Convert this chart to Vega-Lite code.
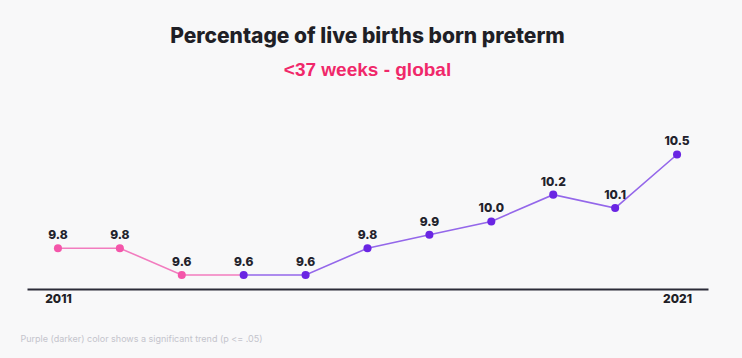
{
  "$schema": "https://vega.github.io/schema/vega-lite/v6.json",
  "width": 681,
  "height": 178,
  "autosize": {"type": "none"},
  "padding": {"left": 27, "top": 111, "right": 34, "bottom": 69},
  "background": "#f8f8f9",
  "config": {"view": {"stroke": null}},
  "title": {
    "text": "Percentage of live births born preterm",
    "subtitle": "<37 weeks - global",
    "anchor": "middle",
    "font": "Inter",
    "fontSize": 21,
    "fontWeight": 800,
    "color": "#1f1f26",
    "subtitleFont": "Liberation Sans",
    "subtitleFontSize": 19,
    "subtitleFontWeight": "bold",
    "subtitleColor": "#f0286a",
    "subtitlePadding": 14,
    "offset": 31
  },
  "datasets": {
    "points": [
      {"year": 2011, "value": 9.8, "trend": "not significant"},
      {"year": 2012, "value": 9.8, "trend": "not significant"},
      {"year": 2013, "value": 9.6, "trend": "not significant"},
      {"year": 2014, "value": 9.6, "trend": "significant"},
      {"year": 2015, "value": 9.6, "trend": "significant"},
      {"year": 2016, "value": 9.8, "trend": "significant"},
      {"year": 2017, "value": 9.9, "trend": "significant"},
      {"year": 2018, "value": 10.0, "trend": "significant"},
      {"year": 2019, "value": 10.2, "trend": "significant"},
      {"year": 2020, "value": 10.1, "trend": "significant"},
      {"year": 2021, "value": 10.5, "trend": "significant"}
    ],
    "lines": [
      {"year": 2011, "value": 9.8, "trend": "not significant"},
      {"year": 2012, "value": 9.8, "trend": "not significant"},
      {"year": 2013, "value": 9.6, "trend": "not significant"},
      {"year": 2014, "value": 9.6, "trend": "not significant"},
      {"year": 2014, "value": 9.6, "trend": "significant"},
      {"year": 2015, "value": 9.6, "trend": "significant"},
      {"year": 2016, "value": 9.8, "trend": "significant"},
      {"year": 2017, "value": 9.9, "trend": "significant"},
      {"year": 2018, "value": 10.0, "trend": "significant"},
      {"year": 2019, "value": 10.2, "trend": "significant"},
      {"year": 2020, "value": 10.1, "trend": "significant"},
      {"year": 2021, "value": 10.5, "trend": "significant"}
    ]
  },
  "encoding": {
    "x": {
      "field": "year",
      "type": "quantitative",
      "scale": {"domain": [2010.5, 2021.5], "nice": false, "zero": false},
      "axis": {
        "values": [2011, 2021],
        "format": "d",
        "title": "Purple (darker) color shows a significant trend (p <= .05)",
        "titleFont": "Inter",
        "titleFontSize": 9,
        "titleFontWeight": "normal",
        "titleColor": "#c4c4cc",
        "titleAnchor": "start",
        "titleAlign": "left",
        "titleBaseline": "middle",
        "titleX": -7,
        "titleY": 49,
        "domainColor": "#2b2b38",
        "domainWidth": 2,
        "ticks": false,
        "grid": false,
        "labelFont": "Inter",
        "labelFontSize": 12,
        "labelFontWeight": 800,
        "labelColor": "#1f1f26",
        "labelPadding": 4
      }
    },
    "y": {
      "field": "value",
      "type": "quantitative",
      "scale": {"domain": [9.495, 10.825], "nice": false, "zero": false},
      "axis": null
    }
  },
  "resolve": {"scale": {"color": "independent"}},
  "layer": [
    {
      "data": {"name": "lines"},
      "mark": {"type": "line", "strokeWidth": 1.6},
      "encoding": {
        "detail": {"field": "trend"},
        "color": {
          "field": "trend",
          "type": "nominal",
          "scale": {"domain": ["not significant", "significant"], "range": ["#f27cbf", "#9467ea"]},
          "legend": null
        }
      }
    },
    {
      "data": {"name": "points"},
      "mark": {"type": "point", "filled": true, "opacity": 1, "size": 65},
      "encoding": {
        "color": {
          "field": "trend",
          "type": "nominal",
          "scale": {"domain": ["not significant", "significant"], "range": ["#f456aa", "#6a25e3"]},
          "legend": null
        }
      }
    },
    {
      "data": {"name": "points"},
      "mark": {"type": "text", "dy": -13, "font": "Inter", "fontSize": 12, "fontWeight": 800, "letterSpacing": -0.3, "color": "#22222c"},
      "encoding": {
        "text": {"field": "value", "type": "quantitative", "format": ".1f"}
      }
    }
  ]
}
